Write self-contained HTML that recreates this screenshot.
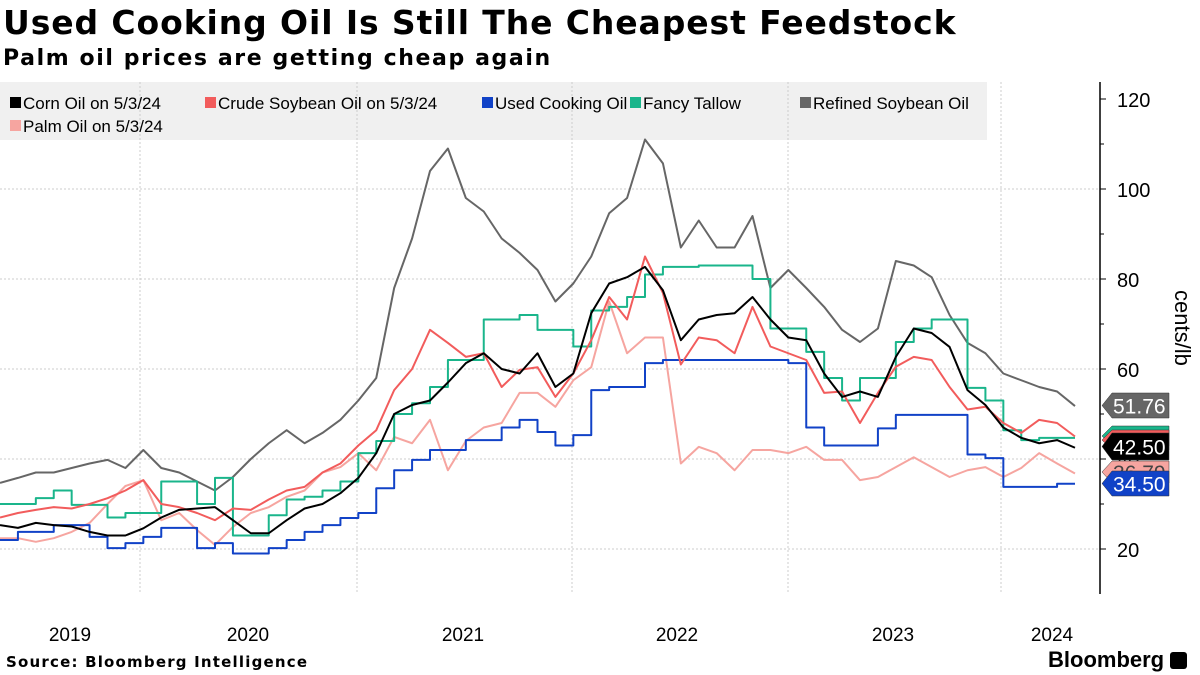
<!DOCTYPE html>
<html><head><meta charset="utf-8"><style>
body{margin:0;width:1200px;height:675px;background:#fff;overflow:hidden;font-family:"Liberation Sans",sans-serif}
#title{position:absolute;left:3px;top:3px;font-family:"DejaVu Sans",sans-serif;font-size:33px;letter-spacing:0.9px;font-weight:bold;color:#000;white-space:nowrap}
#sub{position:absolute;left:3px;top:46px;font-family:"DejaVu Sans",sans-serif;font-size:22px;letter-spacing:1.6px;font-weight:bold;color:#000;white-space:nowrap}
#src{position:absolute;left:6px;top:653px;font-family:"DejaVu Sans",sans-serif;font-size:15px;letter-spacing:1.2px;font-weight:bold;white-space:nowrap}
#logo{position:absolute;left:1048px;top:647px;font-size:22px;font-weight:bold}
</style></head><body>
<div id="title">Used Cooking Oil Is Still The Cheapest Feedstock</div>
<div id="sub">Palm oil prices are getting cheap again</div>
<svg id="chart" width="1200" height="675" style="position:absolute;left:0;top:0"></svg>
<div id="src">Source: Bloomberg Intelligence</div>
<div id="logo">Bloomberg <span style="display:inline-block;width:17px;height:17px;background:#000;border-radius:3px;vertical-align:-2px"></span></div>
<script>
const refinedSoy=[34.7,35.8,37,37,38,39,39.8,38,42,38,37,35,33,36,40,43.5,46.4,43.5,45.8,48.7,53,58,78,89,104,109,98,95,89,85.8,82,75,79,85,94.6,98,111,105.7,87,93,87,87,94,78,82,78,73.8,68.7,66,69,84,83,80.4,72,65.8,63.5,59,57.5,56,55,51.76];
const cornOil=[25.3,24.7,25.8,25.3,25,23.8,23,23,24.6,27,28.7,29,29.3,26.4,23.5,23.5,26.4,29,30,32.4,35.8,41.3,50,52,53,57,61.3,63.5,60,59,63.5,56,59,72.4,79,80.4,82.7,77.5,66.4,71,72,72.4,76,71,67,66.4,59,53.8,55,53.8,62.7,69,68,64.9,55.3,52,47,44.7,43.5,44.2,42.5];
const crudeSoy=[27,28,28.7,29.3,29,30,31.3,33,35.3,30,29.3,28,26.4,29,28.7,31,33,33.8,37,39,43,46.4,55.3,60,68.7,65.8,62.7,63.5,56,59.8,60.4,53.8,59,66.4,76,71,85,76.9,61,67,66.4,63.5,73.8,65,63.5,62,54.7,55,48,54.7,60.5,62.7,62,56,51,51.6,48,45.8,48.7,48,45];
const palmOil=[22.4,22.4,21.6,22.4,23.8,25.8,30,34,35.3,26.4,28,24.2,20.9,24.9,28,29.3,31.6,33,37,38.2,41.3,37.5,44.9,43.5,48.7,37.5,44,47,48,54.7,54.7,51.6,57.5,60.4,75,63.5,67,67,39,42.7,41.3,37.5,42,42,41.3,42.7,39.8,39.8,35.3,36,38.2,40.4,38.2,36,37.5,38.2,36,38,41.3,39,36.79];
const tallow=[30,30,31.3,33,29.8,29.8,27,28,28,35,35,30,35.8,23,23,27.5,31,31.6,33,35,41.3,44,50,52.4,56,62,62,71,71,72,68.7,68.7,65,73,73.8,76,81,82.7,82.7,83,83,83,80,69,69,63.8,58,53,58,58,66,69,71,71,55.8,53,46.4,44.2,44.7,44.7,44.7];
const uco=[22,23.8,23.8,25.3,25.3,22.7,20.2,21.3,22.7,24.7,24.7,20.2,21.3,19,19,20.2,22,23.8,25.3,26.9,28,33.5,37.5,39.8,42,42,44.2,44.2,47,48.7,46,43,45.3,55.3,56,56,61.3,62,62,62,62,62,62,62,61.3,47,43,43,43,46.8,49.8,49.8,49.8,49.8,41,40.2,33.8,33.8,33.8,34.5,34.5];
const yTicks=[20,40,60,80,100,120];
const xLabels=["2019","2020","2021","2022","2023","2024"];
const xLabelPos=[70,248,463,677,893,1052];
const yearGrid=[140,357,572,788,1001];
const NS="http://www.w3.org/2000/svg";
const svg=document.getElementById('chart');
const X=i=>i*1075/60;
const Y=v=>549-(v-20)*4.5;
function mk(t,a,p){const e=document.createElementNS(NS,t);for(const k in a)e.setAttribute(k,a[k]);(p||svg).appendChild(e);return e;}
let lg=mk('rect',{x:0,y:82,width:987,height:58,fill:'#f0f0f0'});


yTicks.forEach(v=>{if(v===120)return;let g=mk('line',{x1:0,x2:1100,y1:Y(v),y2:Y(v),stroke:'#ccc','stroke-dasharray':'2,2'});

});
yearGrid.forEach(x=>{let g=mk('line',{x1:x,x2:x,y1:82,y2:593,stroke:'#ccc','stroke-dasharray':'2,2'});

});
let ax=mk('line',{x1:1100,x2:1100,y1:82,y2:594,stroke:'#000','stroke-width':1.5});


for(let v=20;v<=120;v+=10){mk('line',{x1:1100,x2:v%20===0?1106:1104,y1:Y(v),y2:Y(v),stroke:'#000'});}
yTicks.forEach(v=>{let t=mk('text',{x:1117,y:Y(v)+8,'font-size':20,fill:'#000'});t.textContent=v;

});
let yt=mk('text',{x:0,y:0,'font-size':22,transform:'translate(1175,290) rotate(90)',fill:'#000'});yt.textContent='cents/lb';


xLabels.forEach((l,i)=>{let t=mk('text',{x:xLabelPos[i],y:641,'font-size':19,'text-anchor':'middle',fill:'#000'});t.textContent=l;

});
function line(d,c,w,step,name){let p='';d.forEach((v,i)=>{if(i===0)p='M'+X(0)+','+Y(v);else if(step)p+=' H'+X(i)+' V'+Y(v);else p+=' L'+X(i)+','+Y(v);});
let e=mk('path',{d:p,fill:'none',stroke:c,'stroke-width':w,'stroke-linejoin':'round'});

}
line(refinedSoy,'#666',2,false,'refined-soybean-oil-line');
line(palmOil,'#f6a5a0',2,false,'palm-oil-line');
line(uco,'#1142c7',2,true,'used-cooking-oil-line');
line(tallow,'#1ab58b',2,true,'fancy-tallow-line');
line(crudeSoy,'#f25c5c',2,false,'crude-soybean-oil-line');
line(cornOil,'#000',2,false,'corn-oil-line');
const leg=[["Corn Oil on 5/3/24","#000",10,92],["Crude Soybean Oil on 5/3/24","#f25c5c",205,92],["Used Cooking Oil","#1142c7",482,92],["Fancy Tallow","#1ab58b",630,92],["Refined Soybean Oil","#666",800,92],["Palm Oil on 5/3/24","#f6a5a0",10,115]];
leg.forEach(l=>{let g=mk('g',{});
mk('rect',{x:l[2],y:l[3]+5,width:11,height:11,fill:l[1]},g);let t=mk('text',{x:l[2]+13,y:l[3]+17,'font-size':17,fill:'#000'},g);t.textContent=l[0];});
function badge(y,h,c,tc,txt,name){let g=mk('g',{});
mk('path',{d:`M1102,${y+h/2} L1112,${y} H1169 V${y+h} H1112 Z`,fill:c,stroke:'#333','stroke-width':0.5},g);
if(txt){let t=mk('text',{x:1113,y:y+h/2+8,'font-size':21,fill:tc},g);t.textContent=txt;}}
badge(393,25,'#666','#fff','51.76','badge-refined-soybean');
badge(426,20,'#1ab58b','#fff','','badge-fancy-tallow');
badge(430,20,'#f25c5c','#fff','','badge-crude-soybean');
badge(433,27,'#000','#fff','42.50','badge-corn-oil');
badge(461,22,'#f6a5a0','#444','36.79','badge-palm-oil');
badge(471,25,'#1142c7','#fff','34.50','badge-used-cooking-oil');
</script>
</body></html>
